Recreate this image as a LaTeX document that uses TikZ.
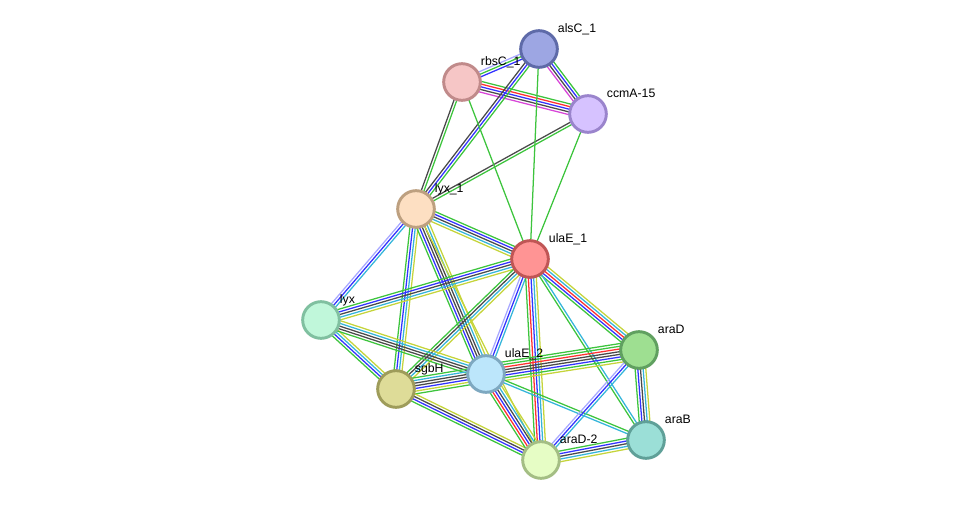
\documentclass[tikz,border=0pt]{standalone}
\usepackage{fontspec}
\setmainfont{Liberation Sans}
\usepackage{tikz}
\usetikzlibrary{calc, backgrounds}

% evidence colours
\definecolor{nb}{HTML}{3DC43D}
\definecolor{fu}{HTML}{FF3030}
\definecolor{co}{HTML}{3333FF}
\definecolor{cx}{HTML}{4A4A4A}
\definecolor{ex}{HTML}{D846D8}
\definecolor{db}{HTML}{35B5DA}
\definecolor{tm}{HTML}{C5D43A}
\definecolor{lav}{HTML}{A8A8FF}
% protein colours
\definecolor{alsCd}{HTML}{5E6AA8}\definecolor{alsCf}{HTML}{9DA6E3}
\definecolor{rbsCd}{HTML}{C08A8A}\definecolor{rbsCf}{HTML}{F6C6C6}
\definecolor{ccmAd}{HTML}{9A84CC}\definecolor{ccmAf}{HTML}{D6C2FF}
\definecolor{lyxAd}{HTML}{BDA080}\definecolor{lyxAf}{HTML}{FDDFC2}
\definecolor{ulaAd}{HTML}{C05555}\definecolor{ulaAf}{HTML}{FF9494}
\definecolor{lyxd}{HTML}{80C0A0}\definecolor{lyxf}{HTML}{C0F7DA}
\definecolor{araDd}{HTML}{60A060}\definecolor{araDf}{HTML}{9EDF91}
\definecolor{ulaBd}{HTML}{7EA8C0}\definecolor{ulaBf}{HTML}{BCE6FB}
\definecolor{sgbHd}{HTML}{9E9C5A}\definecolor{sgbHf}{HTML}{DEDC98}
\definecolor{araBd}{HTML}{5FA098}\definecolor{araBf}{HTML}{9BDFD7}
\definecolor{araDbd}{HTML}{A4BE84}\definecolor{araDbf}{HTML}{E6FDC5}

\tikzset{
  prot/.style={circle, minimum size=27.5pt, inner sep=0pt, line width=2.2pt,
    draw=#1d, fill=#1f},
  lbl/.style={anchor=base west, inner sep=0.5pt, font=\fontsize{9.2}{11}\selectfont},
  edge/.style={line width=0.95pt}
}

% bundle of parallel lines between two proteins
\newcommand{\bundle}[4]{%
  \foreach \c [count=\i] in {#4} {
    \pgfmathsetmacro\off{(\i-(#3+1)/2)*2.0}
    \draw[edge, color=\c] ($(#1)!\off pt!90:(#2)$) -- ($(#2)!\off pt!-90:(#1)$);
  }%
}

\begin{document}
\begin{tikzpicture}[x=0.75pt, y=-0.75pt]
    \useasboundingbox (0,0) rectangle (976,506);

    \node[prot=alsC] (alsC) at (539,49) {};
    \node[prot=rbsC] (rbsC) at (462,82) {};
    \node[prot=ccmA] (ccmA) at (588,114) {};
    \node[prot=lyxA] (lyxA) at (416,209) {};
    \node[prot=ulaA] (ulaA) at (530,259) {};
    \node[prot=lyx] (lyx) at (321,320) {};
    \node[prot=araD] (araD) at (639,350) {};
    \node[prot=ulaB] (ulaB) at (486,374) {};
    \node[prot=sgbH] (sgbH) at (396,389) {};
    \node[prot=araB] (araB) at (646,440) {};
    \node[prot=araDb] (araDb) at (541,460) {};

    \node[lbl] (alsCl) at ($(alsC)+(18,-16)$) {alsC\_1};
    \node[lbl] (rbsCl) at ($(rbsC)+(18,-16)$) {rbsC\_1};
    \node[lbl] (ccmAl) at ($(ccmA)+(18,-16)$) {ccmA-15};
    \node[lbl] (lyxAl) at ($(lyxA)+(18,-16)$) {lyx\_1};
    \node[lbl] (ulaAl) at ($(ulaA)+(18,-16)$) {ulaE\_1};
    \node[lbl] (lyxl) at ($(lyx)+(18,-16)$) {lyx};
    \node[lbl] (araDl) at ($(araD)+(18,-16)$) {araD};
    \node[lbl] (ulaBl) at ($(ulaB)+(18,-16)$) {ulaE\_2};
    \node[lbl] (sgbHl) at ($(sgbH)+(18,-16)$) {sgbH};
    \node[lbl] (araBl) at ($(araB)+(18,-16)$) {araB};
    \node[lbl] (araDbl) at ($(araDb)+(18,-16)$) {araD-2};

    \begin{scope}[on background layer]
        \bundle{alsC}{rbsC}{3}{lav,nb,co}
        \bundle{alsC}{ccmA}{4}{ex,cx,co,nb}
        \bundle{rbsC}{ccmA}{5}{ex,cx,co,fu,nb}
        \bundle{alsC}{lyxA}{3}{cx,co,nb}
        \bundle{rbsC}{lyxA}{2}{cx,nb}
        \bundle{ccmA}{lyxA}{2}{cx,nb}
        \bundle{rbsC}{ulaA}{1}{nb}
        \bundle{alsC}{ulaA}{1}{nb}
        \bundle{ccmA}{ulaA}{1}{nb}
        \bundle{lyxA}{ulaA}{5}{tm,db,cx,co,nb}
        \bundle{lyxA}{lyx}{3}{lav,co,db}
        \bundle{lyxA}{sgbH}{4}{nb,co,db,tm}
        \bundle{lyxA}{ulaB}{6}{nb,co,cx,cx,db,tm}
        \bundle{lyxA}{araDb}{1}{tm}
        \bundle{ulaA}{lyx}{5}{nb,co,cx,db,tm}
        \bundle{ulaA}{sgbH}{4}{nb,cx,db,tm}
        \bundle{ulaA}{ulaB}{3}{lav,co,db}
        \bundle{ulaA}{araDb}{5}{nb,fu,co,db,tm}
        \bundle{ulaA}{araD}{5}{nb,co,fu,db,tm}
        \bundle{ulaA}{araB}{2}{nb,db}
        \bundle{lyx}{sgbH}{4}{nb,co,db,tm}
        \bundle{lyx}{ulaB}{5}{nb,cx,cx,db,tm}
        \bundle{sgbH}{ulaB}{7}{nb,tm,co,cx,cx,db,nb}
        \bundle{sgbH}{araDb}{4}{nb,co,cx,tm}
        \bundle{ulaB}{araD}{8}{tm,nb,co,cx,cx,fu,nb,nb}
        \bundle{ulaB}{araDb}{6}{nb,fu,co,cx,db,tm}
        \bundle{ulaB}{araB}{2}{db,nb}
        \bundle{araD}{araDb}{3}{lav,co,db}
        \bundle{araD}{araB}{5}{nb,co,cx,db,tm}
        \bundle{araB}{araDb}{5}{nb,co,cx,db,tm}
    \end{scope}
\end{tikzpicture}
\end{document}
